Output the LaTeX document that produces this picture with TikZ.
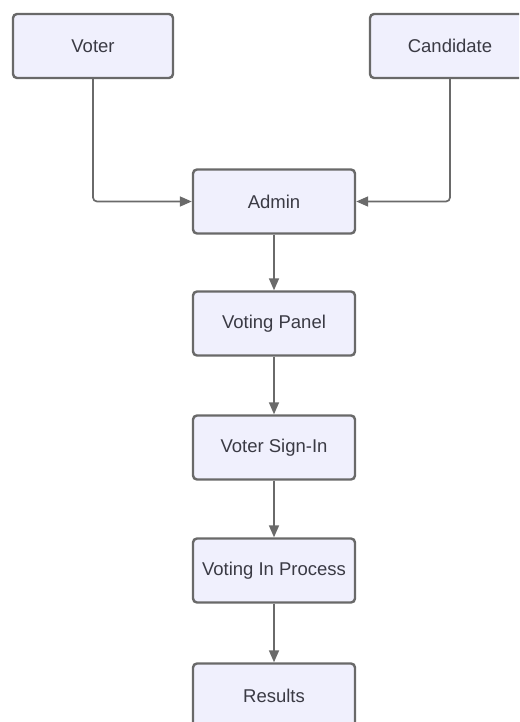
\documentclass[tikz,border=0pt]{standalone}
\usepackage{fontspec}
\setmainfont{Liberation Sans}
\usepackage{xcolor}
\usetikzlibrary{arrows.meta, positioning}
\definecolor{vtfill}{HTML}{F0F0FD}
\definecolor{vtline}{HTML}{696969}
\definecolor{vttext}{HTML}{3A3A44}
\definecolor{vtarrow}{HTML}{6A6A6A}

\begin{document}
\begin{tikzpicture}[x=1pt, y=-1pt,
  box/.style={draw=vtline, fill=vtfill, line width=2.4pt, rounded corners=4pt, minimum width=160pt, minimum height=64pt, inner sep=2pt, align=center, text=vttext, font=\fontsize{18.5}{22}\selectfont},
  arr/.style={-{Triangle[length=12pt, width=10pt]}, vtarrow, line width=1.7pt, rounded corners=4pt}
]
  \useasboundingbox (0,0) rectangle (519,722);
  \clip (0,0) rectangle (519,722);
  \fill[white] (0,0) rectangle (519,722);

  \node[box] (voter) at (93,46) {Voter};
  \node[box] (cand) at (450,46) {Candidate};
  \node[box, minimum width=162pt] (admin) at (274,201.5) {Admin};
  \node[box, minimum width=162pt] (panel) at (274,323.5) {Voting Panel};
  \node[box, minimum width=162pt] (signin) at (274,447.5) {Voter Sign-In};
  \node[box, minimum width=162pt] (process) at (274,570.5) {Voting In Process};
  \node[box, minimum width=162pt] (results) at (274,695.5) {Results};

  \draw[arr] (voter.south) |- (admin.west);
  \draw[arr] (cand.south) |- (admin.east);
  \draw[arr] (admin) -- (panel);
  \draw[arr] (panel) -- (signin);
  \draw[arr] (signin) -- (process);
  \draw[arr] (process) -- (results);
\end{tikzpicture}
\end{document}
